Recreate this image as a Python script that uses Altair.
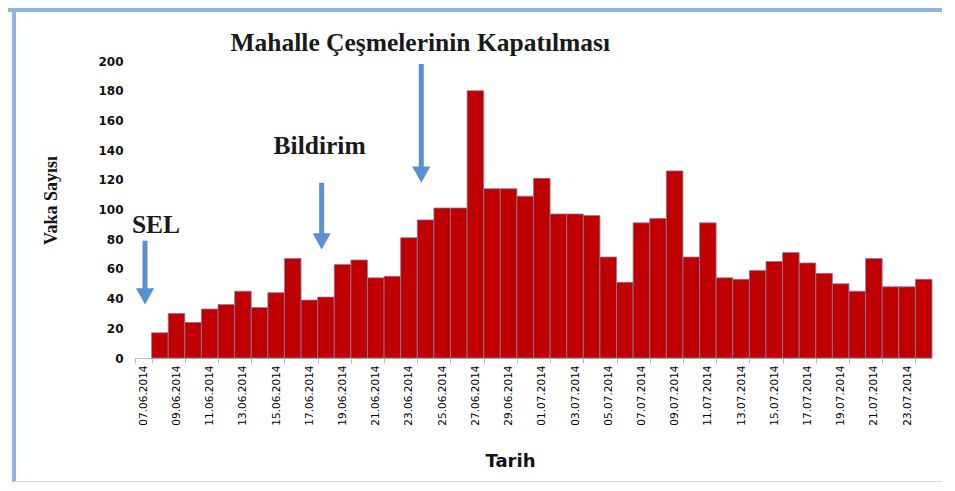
import altair as alt
import pandas as pd

dates = [f"{d:02d}.06.2014" for d in range(7, 31)] + [f"{d:02d}.07.2014" for d in range(1, 25)]
cases = [0, 17, 30, 24, 33, 36, 45, 34, 44, 67, 39, 41, 63, 66, 54, 55,
         81, 93, 101, 101, 180, 114, 114, 109, 121, 97, 97, 96, 68, 51, 91, 94, 126,
         68, 91, 54, 53, 59, 65, 71, 64, 57, 50, 45, 67, 48, 48, 53]
label_dates = dates[::2]
y_ticks = [0, 20, 40, 60, 80, 100, 120, 140, 160, 180, 200]

note_text = ["SEL", "Bildirim", "Mahalle Çeşmelerinin Kapatılması"]
note_date = ["07.06.2014", "18.06.2014", "24.06.2014"]
note_y = [89.5, 142.5, 212]
text_dx = [21, 2, 3]
arrow_dx = [10, 4, 4]
arrow_top = [79, 118, 198]
arrow_tip = [36, 73, 118]

df = pd.DataFrame({"Tarih": dates, "Vaka": cases})
notes = pd.DataFrame({"text": note_text, "Tarih": note_date, "y": note_y,
                      "tdx": text_dx, "adx": arrow_dx,
                      "top": arrow_top, "tip": arrow_tip,
                      "shaft_end": [t + 8 for t in arrow_tip]})

W, H = 797, 297
xscale = alt.Scale(domain=dates, paddingInner=0, paddingOuter=0)
yscale = alt.Scale(domain=[0, 200], nice=False)

x_axis = alt.Axis(values=label_dates, labelAngle=-90, labelFont="DejaVu Sans",
                  labelFontSize=10.5, labelColor="#000", labelPadding=2,
                  tickBand="extent", tickColor="#bbbbbb", domainColor="#bbbbbb",
                  title="Tarih", titleFont="DejaVu Sans", titleFontSize=18,
                  titleFontWeight="bold", titleColor="#111", titleX=375, titleY=94,
                  titleBaseline="top")
y_axis = alt.Axis(values=y_ticks, grid=False, domain=False, ticks=False,
                  labelOverlap=False, labelFont="DejaVu Sans", labelFontWeight="bold",
                  labelFontSize=12, labelColor="#111", labelPadding=12,
                  title="Vaka Sayısı", titleFont="Liberation Serif", titleFontSize=18,
                  titleFontWeight="bold", titleColor="#111", titleX=-84, titleY=139,
                  titleAngle=-90, titleBaseline="middle")

bars = alt.Chart(df).transform_filter("datum.Vaka > 0").mark_bar(
    color="#C00000", stroke="#7F7FA8", strokeWidth=0.8).encode(
    x=alt.X("Tarih:N", scale=xscale, sort=None, axis=x_axis),
    y=alt.Y("Vaka:Q", scale=yscale, axis=y_axis),
)

arrow_color = "#5B8FD3"
shafts = alt.Chart(notes).mark_rule(color=arrow_color, strokeWidth=5).encode(
    x=alt.X("Tarih:N", scale=xscale, sort=None, axis=x_axis),
    y=alt.Y("top:Q", scale=yscale, axis=y_axis),
    y2="shaft_end:Q",
    xOffset=alt.XOffset("adx:Q", scale=None),
)
heads = alt.Chart(notes).mark_point(shape="M-1,-1.8 L1,-1.8 L0,0 Z", filled=True, opacity=1,
                                    color=arrow_color, size=330).encode(
    x=alt.X("Tarih:N", scale=xscale, sort=None, axis=x_axis),
    y=alt.Y("tip:Q", scale=yscale, axis=y_axis),
    xOffset=alt.XOffset("adx:Q", scale=None),
)
texts = alt.Chart(notes).mark_text(font="Liberation Serif", fontWeight="bold", fontSize=25.5,
                                   color="#1a1a1a").encode(
    x=alt.X("Tarih:N", scale=xscale, sort=None, axis=x_axis),
    y=alt.Y("y:Q", scale=yscale, axis=y_axis),
    text="text:N",
    xOffset=alt.XOffset("tdx:Q", scale=None),
)

frame_top = alt.Chart(df).mark_rule(color="#8DB4E2", strokeWidth=3).encode(
    x=alt.value(-127), x2=alt.value(W + 10), y=alt.value(-51))
frame_left = alt.Chart(df).mark_rule(color="#8DB4E2", strokeWidth=3).encode(
    x=alt.value(-121), y=alt.value(-51), y2=alt.value(421))
frame_bottom = alt.Chart(df).mark_rule(color="#C6D9F1", strokeWidth=2).encode(
    x=alt.value(-121), x2=alt.value(W + 10), y=alt.value(421))

chart = alt.layer(bars, shafts, heads, texts, frame_top, frame_left, frame_bottom).properties(
    width=W, height=H,
    autosize=alt.AutoSizeParams(type="none"),
    padding={"left": 127, "top": 53, "right": 10, "bottom": 124},
).configure_view(stroke=None)

chart.save("out.html", embed_options={"renderer": "svg", "actions": False})
